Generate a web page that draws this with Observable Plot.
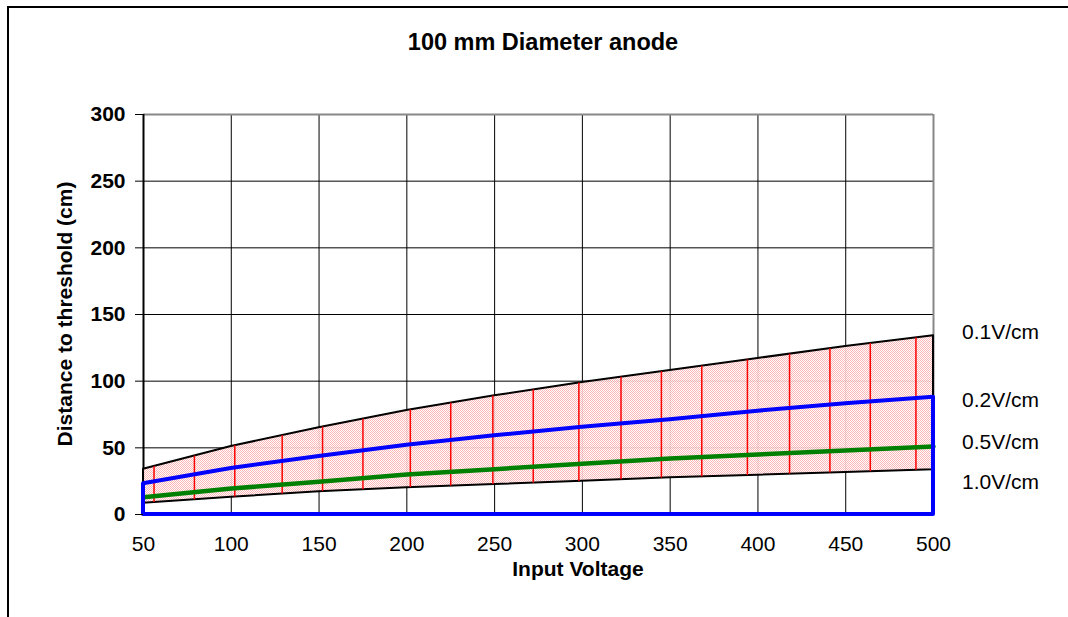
<!DOCTYPE html>
<html><head><meta charset="utf-8">
<script src="https://cdn.jsdelivr.net/npm/d3@7"></script>
<script src="https://cdn.jsdelivr.net/npm/@observablehq/plot@0.6"></script>
<style>body{margin:0;background:#fff;font-family:"Liberation Sans",Arial,sans-serif}</style>
</head><body><div id="chart"></div><script>
const voltage = [50, 100, 150, 200, 250, 300, 350, 400, 450, 500];
const upper01 = [34, 51, 65, 78, 89, 99, 108, 117, 126, 134];
const line02 = [23, 34.5, 43.5, 52, 59, 65.5, 71, 77.5, 83, 88];
const line05 = [13, 19.5, 24.5, 30, 34, 38, 42, 45, 48, 51];
const lower10 = [8.5, 13, 17, 20, 22.5, 25, 27.5, 29.5, 31.5, 33.5];
const hatchX = [56, 79, 102, 129, 152, 175, 202, 225, 249, 272, 298, 322, 345, 368, 394, 418, 441, 464, 490];
const xTicks = [50, 100, 150, 200, 250, 300, 350, 400, 450, 500];
const yTicks = [0, 50, 100, 150, 200, 250, 300];
const seriesLabels = ["0.1V/cm", "0.2V/cm", "0.5V/cm", "1.0V/cm"];
const titleText = "100 mm Diameter anode";
const xLabel = "Input Voltage";
const yLabel = "Distance to threshold (cm)";

const band = voltage.map((v, i) => ({x: v, lo: lower10[i], hi: upper01[i]}));
const blue = voltage.map((v, i) => ({x: v, y: line02[i]}));
const green = voltage.map((v, i) => ({x: v, y: line05[i]}));
const font = '"Liberation Sans", Arial, sans-serif';

const chart = Plot.plot({
  width: 1068, height: 617,
  marginLeft: 143, marginRight: 135, marginTop: 114, marginBottom: 103,
  x: {domain: [50, 500]},
  y: {domain: [0, 300]},
  style: {fontFamily: font, background: "white", color: "black"},
  marks: [
    Plot.gridX(xTicks, {stroke: "black", strokeOpacity: 1, strokeWidth: 1}),
    Plot.gridY(yTicks, {stroke: "black", strokeOpacity: 1, strokeWidth: 1}),
    Plot.ruleY([300], {stroke: "#888", strokeWidth: 2}),
    Plot.ruleX([500], {stroke: "#888", strokeWidth: 2}),
    Plot.ruleX([50], {stroke: "black", strokeWidth: 2}),
    Plot.areaY(band, {x: "x", y1: "lo", y2: "hi", fill: "#fdcccc", stroke: "black", strokeWidth: 2}),
    Plot.ruleX(hatchX, {x: d => d, y1: 0, y2: 300, stroke: "#ff0000", strokeWidth: 1.5}),
    Plot.lineY(green, {x: "x", y: "y", stroke: "#008000", strokeWidth: 4.5}),
    Plot.areaY(blue, {x: "x", y: "y", fill: "none", stroke: "#0000ff", strokeWidth: 4}),
    Plot.axisY({ticks: yTicks, tickSize: 8, tickPadding: 10, fontSize: 21, fontWeight: "bold", label: null, stroke: "black"}),
    Plot.axisX({ticks: xTicks, tickSize: 0, tickPadding: 22, fontSize: 21, label: null})
  ]
});
document.getElementById("chart").appendChild(chart);

const svg = d3.select(chart);
const defs = svg.insert("defs", ":first-child");
const pat = defs.append("pattern").attr("id", "dots").attr("width", 2).attr("height", 2).attr("patternUnits", "userSpaceOnUse");
pat.append("rect").attr("width", 2).attr("height", 2).attr("fill", "rgba(255,255,255,0.88)");
pat.append("rect").attr("width", 1).attr("height", 1).attr("fill", "rgba(255,110,110,0.5)");
pat.append("rect").attr("x", 1).attr("y", 1).attr("width", 1).attr("height", 1).attr("fill", "rgba(255,110,110,0.5)");

const bandG = chart.querySelector('g[fill="#fdcccc"]');
const bandEl = bandG ? bandG.querySelector("path") : chart.querySelector('path[fill="#fdcccc"]');
if (bandEl) {
  bandEl.setAttribute("fill", "url(#dots)");
  if (bandG) bandG.setAttribute("fill", "url(#dots)");
  const d = bandEl.getAttribute("d");
  if (d) {
    defs.append("clipPath").attr("id", "bandclip").append("path").attr("d", d);
    const hatchG = chart.querySelector('g[stroke="#ff0000"]');
    if (hatchG) hatchG.setAttribute("clip-path", "url(#bandclip)");
  }
}

svg.append("path").attr("d", "M8,617V7H1068").attr("fill", "none").attr("stroke", "black").attr("stroke-width", 2);
const txt = (x, y, s, size, weight, anchor) => svg.append("text").attr("x", x).attr("y", y)
  .attr("text-anchor", anchor).attr("font-size", size).attr("font-weight", weight)
  .attr("font-family", font).attr("fill", "black").text(s);
txt(543, 50, titleText, 23.5, "bold", "middle");
txt(578, 576, xLabel, 21, "bold", "middle");
txt(0, 0, yLabel, 21, "bold", "middle").attr("transform", "translate(72,314) rotate(-90)");
const legendY = [339, 407, 449, 489];
seriesLabels.forEach((s, i) => txt(962, legendY[i], s, 21, "normal", "start"));
</script></body></html>
